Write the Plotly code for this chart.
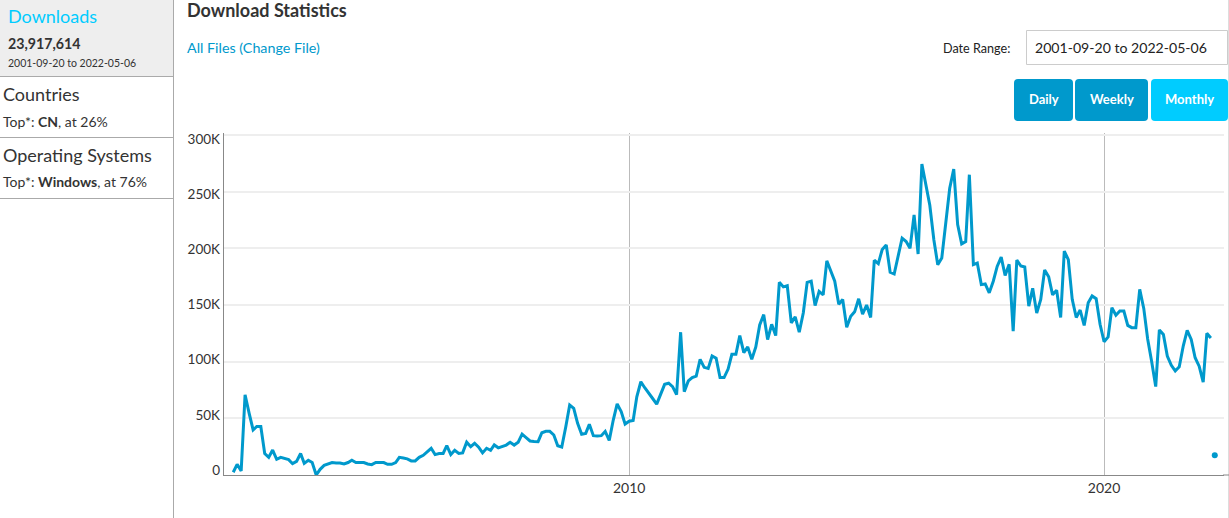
import pandas as pd
import plotly.graph_objects as go

W, H = 1229, 518

# Monthly downloads in thousands, 2001-09 through 2022-04
downloads_k = [
    2.4, 9.4, 3.5, 70.8, 54.6, 39.8, 42.8, 42.8, 19, 15.6,
    22, 13.9, 15.6, 14.5, 13.6, 10, 12, 19, 10.3, 13,
    11, 0, 5, 8.5, 10, 11, 10.6, 10.6, 9.7, 11,
    13, 11, 11, 11, 9.7, 9.1, 11, 11, 11, 9.4,
    9.4, 11, 15.6, 15, 14.2, 12.4, 12.4, 15.6, 17.4, 20.4,
    23.6, 18, 19, 19, 26, 18, 21.8, 19, 19.5, 29,
    25, 28, 24.5, 19.5, 23.6, 21.8, 26.5, 24, 25, 26.4,
    28.8, 26.4, 29, 36, 33, 30, 29.6, 29.4, 37.3, 38.5,
    38.5, 35.3, 25.8, 24.6, 42.6, 61.8, 58.8, 45.6, 36, 36.7,
    44.7, 34.7, 34.4, 34.7, 38.5, 30.5, 48.5, 62.7, 55.9, 45,
    47.5, 48.2, 69, 82.3, 77, 72.6, 67.5, 62.5, 72, 80,
    81, 78, 71, 126, 73.5, 83, 86, 87.3, 102, 95,
    94, 105, 103, 86, 86, 93.5, 106.5, 106.5, 123, 108,
    113, 102, 113, 132.4, 141.5, 119.5, 133, 123, 170, 166,
    167, 134.3, 139.5, 126, 143, 170, 171, 149.5, 162, 159,
    189, 180, 171, 150.6, 155, 130.4, 140, 144, 155.5, 142,
    150, 139, 189.5, 186.5, 199, 203, 179, 177.4, 193, 209,
    206, 200, 229.6, 195, 274.5, 256, 238, 207.6, 185.6, 191.5,
    221, 253, 270, 221, 204, 206, 265, 185.6, 187, 168,
    168.6, 160.8, 171, 184, 192.3, 176, 186, 127, 189.7, 184.4,
    183.5, 149, 164.7, 143, 155, 181, 175, 159, 163, 139,
    197.6, 190, 155, 139, 145.6, 132, 152, 158, 155.6, 133,
    117.6, 121.8, 147.6, 141, 144.7, 144.7, 132, 130, 130, 163.8,
    147, 120, 100, 78, 128, 124, 105, 96.8, 91.8, 95.6,
    114, 127.6, 119.7, 103.5, 96, 82, 125, 121,
]
months = pd.date_range("2001-09-01", periods=len(downloads_k), freq="MS")
partial_month = ["2022-05-01"]
partial_value_k = [17.5]

y_ticks = [0, 50, 100, 150, 200, 250, 300]
y_labels = ["0", "50K", "100K", "150K", "200K", "250K", "300K"]
x_ticks = ["2010-01-01", "2020-01-01"]
x_labels = ["2010", "2020"]

BLUE = "#0099CC"
CYAN = "#00CCFF"
DARK = "#333333"
FONT = "Lato"


def px(x):
    return x / W


def py(y):
    return 1 - y / H


fig = go.Figure()
fig.add_trace(go.Scatter(x=months, y=downloads_k, mode="lines", showlegend=False,
                         line=dict(color=BLUE, width=3), hoverinfo="x+y"))
fig.add_trace(go.Scatter(x=partial_month, y=partial_value_k, mode="markers", showlegend=False,
                         marker=dict(color=BLUE, size=6), hoverinfo="x+y"))
# carries the y tick labels, which sit on a slightly tighter scale than the gridlines
fig.add_trace(go.Scatter(x=partial_month, y=[None], yaxis="y2", mode="markers",
                         showlegend=False, hoverinfo="skip"))

shapes = []


def rect(x0, y0, x1, y1, fill, line=None):
    shapes.append(dict(type="rect", xref="paper", yref="paper", x0=px(x0), x1=px(x1),
                       y0=py(y1), y1=py(y0), fillcolor=fill, layer="below",
                       line=dict(color=line or fill, width=1 if line else 0)))


def hline(x0, x1, y, color, width=1):
    shapes.append(dict(type="line", xref="paper", yref="paper", x0=px(x0), x1=px(x1),
                       y0=py(y), y1=py(y), line=dict(color=color, width=width), layer="below"))


def vline(x, y0, y1, color, width=1):
    shapes.append(dict(type="line", xref="paper", yref="paper", x0=px(x), x1=px(x),
                       y0=py(y0), y1=py(y1), line=dict(color=color, width=width), layer="below"))


def button(x0, y0, x1, y1, fill, r=4):
    a0, a1 = px(x0), px(x1)
    b0, b1 = py(y0), py(y1)
    rx, ry = r / W, r / H
    path = (f"M {a0 + rx} {b0} L {a1 - rx} {b0} Q {a1} {b0} {a1} {b0 - ry} "
            f"L {a1} {b1 + ry} Q {a1} {b1} {a1 - rx} {b1} L {a0 + rx} {b1} "
            f"Q {a0} {b1} {a0} {b1 + ry} L {a0} {b0 - ry} Q {a0} {b0} {a0 + rx} {b0} Z")
    shapes.append(dict(type="path", xref="paper", yref="paper", path=path,
                       fillcolor=fill, line=dict(width=0), layer="below"))


rect(0, 0, 173, 76, "#EEEEEE")
hline(0, 173, 76.5, "#AAAAAA")
hline(0, 173, 137.5, "#AAAAAA")
hline(0, 173, 198.5, "#AAAAAA")
vline(173.5, 0, 518, "#AAAAAA")
vline(1228.5, 0, 518, "#DDDDDD")
rect(1026.5, 30.5, 1227.5, 64.5, "#FFFFFF", "#CCCCCC")
button(1014, 79, 1073, 121, BLUE)
button(1075, 79, 1148, 121, BLUE)
button(1151, 79, 1228, 121, CYAN)
hline(1223, 1229, 475, "#888888", 1)

annotations = []


def text(x, y, s, size, color=DARK, anchor="left"):
    annotations.append(dict(x=px(x), y=py(y), xref="paper", yref="paper", text=s,
                            showarrow=False, xanchor=anchor, yanchor="middle",
                            align=anchor, borderpad=0,
                            font=dict(family=FONT, size=size, color=color)))


text(6.5, 16, "Downloads", 18, CYAN)
text(7, 43.5, "<b>23,917,614</b>", 14.2, DARK)
text(7, 63, "2001-09-20 to 2022-05-06", 10.5, DARK)
text(2, 94, "Countries", 18, DARK)
text(2, 121.5, "Top*: <b>CN</b>, at 26%", 14, DARK)
text(2, 155, "Operating Systems", 18, DARK)
text(2, 182, "Top*: <b>Windows</b>, at 76%", 14, DARK)
text(186, 10, "<b>Download Statistics</b>", 18, DARK)
text(186, 47, "All Files (Change File)", 14.3, BLUE)
text(1011, 48, "Date Range:", 12.6, "#222222", "right")
text(1034, 47, "2001-09-20 to 2022-05-06", 14.1, "#222222")
text(1043.5, 99, "<b>Daily</b>", 13, "#FFFFFF", "center")
text(1111.5, 99, "<b>Weekly</b>", 13, "#FFFFFF", "center")
text(1189, 99, "<b>Monthly</b>", 13, "#FFFFFF", "center")

fig.update_layout(
    width=W, height=H, autosize=False,
    margin=dict(l=0, r=0, t=0, b=0, pad=0, autoexpand=False),
    paper_bgcolor="white", plot_bgcolor="white",
    showlegend=False, shapes=shapes, annotations=annotations,
    xaxis=dict(
        domain=[px(224), px(1224)], type="date", automargin=False,
        range=["2001-06-22", "2022-07-11"],
        tickmode="array", tickvals=x_ticks, ticktext=x_labels,
        showgrid=True, gridcolor="#BBBBBB", gridwidth=1,
        showline=True, linecolor="#888888", linewidth=1,
        ticks="", ticklen=0, zeroline=False,
        tickfont=dict(family=FONT, size=14, color=DARK),
    ),
    yaxis=dict(
        domain=[py(475), py(133)], range=[0, 301.8], automargin=False,
        tickmode="array", tickvals=y_ticks, ticktext=y_labels,
        showticklabels=False,
        showgrid=True, gridcolor="#EEEEEE", gridwidth=2,
        showline=True, linecolor="#888888", linewidth=1,
        ticks="", zeroline=False,
    ),
    yaxis2=dict(
        overlaying="y", anchor="x", side="left", automargin=False,
        range=[-4.53, 305.4],
        tickmode="array", tickvals=y_ticks, ticktext=y_labels,
        showgrid=False, showline=False, zeroline=False, ticks="",
        ticklabelstandoff=3,
        tickfont=dict(family=FONT, size=13.5, color=DARK),
    ),
)

fig.write_html("out.html", config=dict(displayModeBar=False),
               post_script="document.body.style.margin='0';document.body.style.overflow='hidden';"
                           "window.dispatchEvent(new Event('resize'));")
